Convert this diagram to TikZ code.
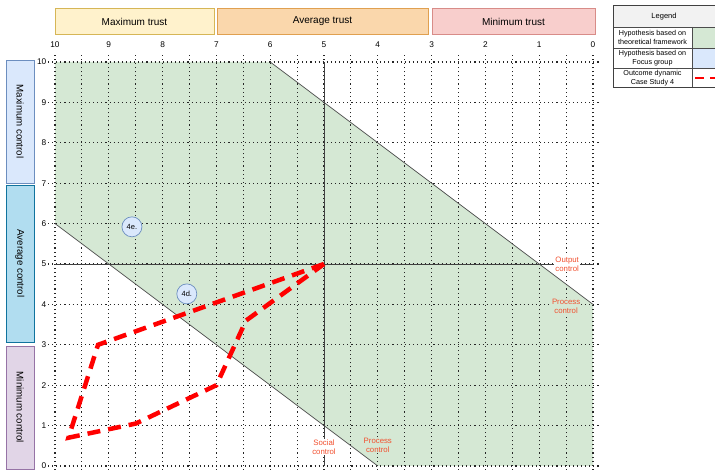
\documentclass[tikz,border=0pt]{standalone}
\usepackage{fontspec}
\setmainfont{Liberation Sans}
\definecolor{gfill}{HTML}{D5E8D4}
\definecolor{bfill}{HTML}{DAE8FC}
\definecolor{bdraw}{HTML}{6C8EBF}
\definecolor{acfill}{HTML}{B1DDF0}
\definecolor{acdraw}{HTML}{10739E}
\definecolor{mcfill}{HTML}{E1D5E7}
\definecolor{mcdraw}{HTML}{9673A6}
\definecolor{mtfill}{HTML}{FFF2CC}
\definecolor{mtdraw}{HTML}{D6B656}
\definecolor{atfill}{HTML}{FAD7AC}
\definecolor{atdraw}{HTML}{E0A050}
\definecolor{ntfill}{HTML}{F8CECC}
\definecolor{ntdraw}{HTML}{D88C88}
\definecolor{lblred}{HTML}{F2502F}
\definecolor{hdrgray}{HTML}{F2F2F2}
\tikzset{
  hdrbox/.style={draw, line width=0.8pt, minimum height=26pt, inner sep=0pt, font=\fontsize{10}{12}\selectfont},
  sidebox/.style={draw, line width=0.8pt, rotate=-90, minimum height=28pt, inner sep=0pt, font=\fontsize{9.7}{12}\selectfont},
  axnum/.style={font=\fontsize{8.3}{10}\selectfont, inner sep=1pt},
  gridl/.style={black!85, line width=1.1pt, dash pattern=on 1.1pt off 3pt},
  solidl/.style={black!75, line width=0.8pt},
  diagl/.style={black!70, line width=0.7pt},
  reddash/.style={red, line width=4.5pt, dash pattern=on 13pt off 8pt},
  lbl/.style={text=lblred, font=\fontsize{7.8}{9}\selectfont, align=center, inner sep=1pt},
  circ/.style={circle, draw=bdraw, fill=bfill, line width=0.7pt, minimum size=20pt, inner sep=0pt, font=\fontsize{7.5}{9}\selectfont},
  legtxt/.style={font=\fontsize{7.2}{8.4}\selectfont, align=center, inner sep=0pt},
}
\begin{document}
\begin{tikzpicture}[x=1pt,y=1pt]
\useasboundingbox (0,0) rectangle (715,470);
\clip (0,0) rectangle (715,470);
\fill[white] (0,0) rectangle (715,470);

% header boxes
\node[hdrbox, fill=mtfill, draw=mtdraw, minimum width=159pt] (maxtrust) at (134.5,448.5) {Maximum trust};
\node[hdrbox, fill=atfill, draw=atdraw, minimum width=211pt] (avgtrust) at (322.5,448.5) {Average trust};
\node[hdrbox, fill=ntfill, draw=ntdraw, minimum width=163pt] (mintrust) at (513.5,448.5) {Minimum trust};

% side boxes
\node[sidebox, fill=bfill, draw=bdraw, minimum width=123pt] (maxctrl) at (20,348.5) {Maximum control};
\node[sidebox, fill=acfill, draw=acdraw, minimum width=157pt] (avgctrl) at (20,206.5) {Average control};
\node[sidebox, fill=mcfill, draw=mcdraw, minimum width=123pt] (minctrl) at (20,62.5) {Minimum control};

\begin{scope}[shift={(593,4)}, x=-53.8pt, y=40.4pt]
  % green region
  \fill[gfill] (10,10) -- (6,10) -- (0,4) -- (0,0) -- (4,0) -- (10,6) -- cycle;
  % grid
  \foreach \i in {0,0.5,...,10} \draw[gridl] (\i,-0.2) -- (\i,10.17);
  \foreach \j in {0,...,10} \draw[gridl] (10.13,\j) -- (-0.13,\j);
  % axis numbers
  \foreach \i in {0,...,10} \node[axnum] (tx\i) at (\i,10.42) {\i};
  \foreach \j in {0,...,10} \node[axnum, anchor=east] (ly\j) at (10.14,\j) {\j};
  % solid lines
  \draw[solidl] (5,0) -- (5,10);
  \draw[solidl] (10,5) -- (0,5);
  \draw[diagl] (6,10) -- (0,4);
  \draw[diagl] (10,6) -- (4,0);
  % red dynamic
  \coordinate (p0) at (5,5);
  \coordinate (p1) at (9.2,3.0);
  \coordinate (p2) at (9.75,0.7);
  \coordinate (p3) at (8.5,1.05);
  \coordinate (p4) at (7,2);
  \coordinate (p5) at (6.45,3.6);
  \draw[reddash] (p0) -- (p1) -- (p2) -- (p3) -- (p4) -- (p5) -- cycle;
  % labels
  \node[lbl, fill=white] (outc) at (0.48,5.0) {Output\\control};
  \node[lbl, fill=gfill] (procr) at (0.5,3.96) {Process\\control};
  \node[lbl, fill=white] (socc) at (5.0,0.47) {Social\\control};
  \node[lbl, fill=gfill] (procb) at (4.0,0.52) {Process\\control};
  % circles
  \node[circ] (c4e) at (8.57,5.92) {4e.};
  \node[circ] (c4d) at (7.55,4.26) {4d.};
\end{scope}

% legend
\fill[hdrgray] (613,443) rectangle (717,464);
\fill[gfill] (692,422) rectangle (717,443);
\fill[bfill] (692,402) rectangle (717,422);
\draw[black!70, line width=0.5pt] (613,443) -- (717,443) (613,422) -- (717,422) (613,402) -- (717,402) (692,443) -- (692,382);
\draw[black!75, line width=1pt] (613,382) rectangle (717,464);
\node[legtxt] (leghdr) at (664,453.5) {\fontsize{7.5}{9}\selectfont Legend};
\node[legtxt] (leg1) at (652.5,432.5) {Hypothesis based on\\theoretical framework};
\node[legtxt] (leg2) at (652.5,412) {Hypothesis based on\\Focus group};
\node[legtxt] (leg3) at (652.5,392) {Outcome dynamic\\Case Study 4};
\coordinate (lr0) at (695,392);
\coordinate (lr1) at (720,392);
\draw[red, line width=2.5pt, dash pattern=on 9pt off 6pt] (lr0) -- (lr1);
\end{tikzpicture}
\end{document}
